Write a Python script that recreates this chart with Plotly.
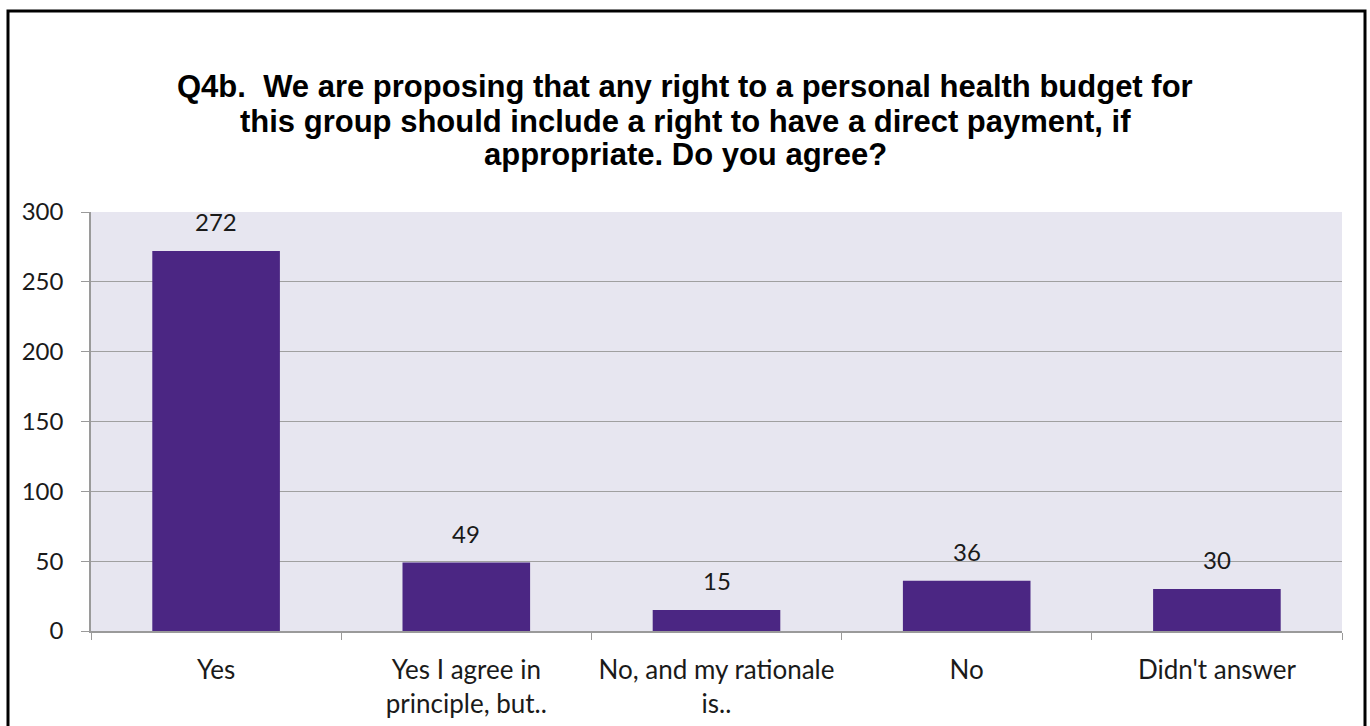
import plotly.graph_objects as go

categories = ["Yes", "Yes I agree in<br>principle, but..", "No, and my rationale<br>is..", "No", "Didn't answer"]
counts = [272, 49, 15, 36, 30]
y_ticks = [0, 50, 100, 150, 200, 250, 300]

title_lines = [
    "Q4b.  We are proposing that any right to a personal health budget for",
    "this group should include a right to have a direct payment, if",
    "appropriate. Do you agree?",
]

sans = "Lato, Carlito, Calibri, sans-serif"
num_font = dict(family=sans, size=24, color="#1a1a1a")
cat_font = dict(family=sans, size=26, color="#1a1a1a")
title_font = dict(family="Liberation Sans, Arial, sans-serif", size=31, color="black")

# plot-area geometry in pixels (used to place the title lines and frame)
W, H = 1370, 726
M_L, M_R, M_T, M_B = 91, 28, 212, 95
plot_h = H - M_T - M_B

fig = go.Figure()
fig.add_trace(go.Bar(
    x=categories,
    y=counts,
    marker=dict(color="#4B2683", line=dict(width=0)),
    width=0.51,
    hoverinfo="x+y",
))

# value labels above each bar
for c, v in zip(categories, counts):
    fig.add_annotation(x=c, y=v, text=str(v), showarrow=False,
                       yanchor="bottom", yshift=13, font=num_font)

# three-line bold title with tight line spacing
for i, line in enumerate(title_lines):
    py = 87 + 34 * i
    fig.add_annotation(text=f"<b>{line}</b>", showarrow=False,
                       xref="paper", yref="paper",
                       x=(W / 2 - M_L) / (W - M_L - M_R), xanchor="center",
                       y=(H - M_B - py) / plot_h, yanchor="middle",
                       font=title_font)

fig.update_layout(
    width=W, height=H,
    margin=dict(l=M_L, r=M_R, t=M_T, b=M_B),
    paper_bgcolor="white",
    plot_bgcolor="#E7E6F0",
    showlegend=False,
    bargap=0.49,
    xaxis=dict(
        type="category",
        showgrid=False,
        showline=True, linecolor="#9a9a9a", linewidth=1.5,
        ticks="outside", tickson="boundaries", ticklen=7, tickcolor="#9a9a9a",
        tickfont=cat_font,
        ticklabelstandoff=15,
        automargin=False,
        fixedrange=True,
    ),
    yaxis=dict(
        range=[0, 300],
        tickvals=y_ticks,
        showgrid=True, gridcolor="#a0a0a0", gridwidth=1,
        showline=True, linecolor="#9a9a9a", linewidth=1.5,
        ticks="outside", ticklen=8, tickcolor="#9a9a9a",
        tickfont=num_font,
        ticklabelstandoff=13,
        automargin=False,
        zeroline=False,
        fixedrange=True,
    ),
)

# outer frame around the chart
fig.add_shape(type="rect", xref="paper", yref="paper",
              x0=(8 - M_L) / (W - M_L - M_R), x1=(1365 - M_L) / (W - M_L - M_R),
              y0=(H - M_B - 760) / plot_h, y1=(H - M_B - 11) / plot_h,
              line=dict(color="black", width=3), fillcolor="rgba(0,0,0,0)", layer="above")

fig.write_html("out.html")
